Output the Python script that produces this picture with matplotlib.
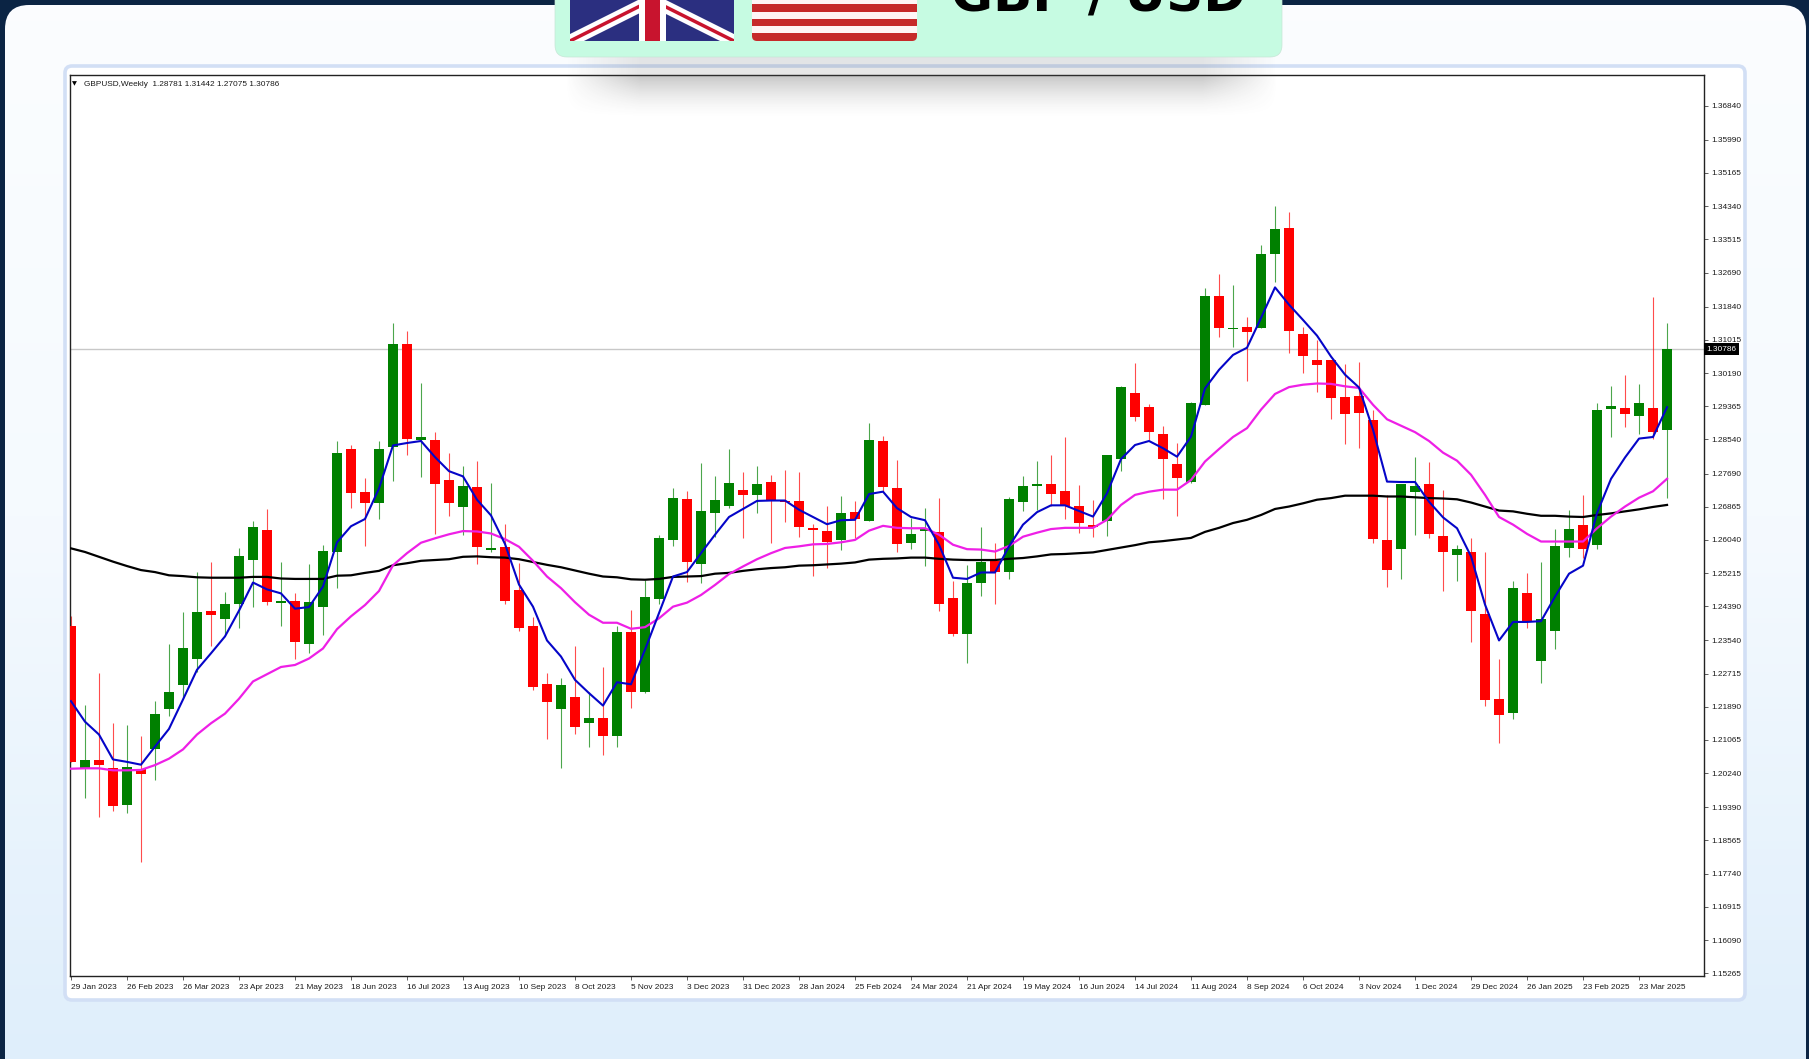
"""
Grafico semanal GBP/USD con velas y tres medias moviles, dentro del marco
decorativo del articulo original.
"""

import matplotlib

matplotlib.use("Agg")

import matplotlib.pyplot as plt
import numpy as np

from matplotlib.patches import FancyBboxPatch, Rectangle

APERTURA = [
    1.2390, 1.2037, 1.2056, 1.2037, 1.1946, 1.2035, 1.2085, 1.2183, 1.2244, 1.2307,
    1.2426, 1.2408, 1.2445, 1.2555, 1.2628, 1.2448, 1.2452, 1.2345, 1.2436, 1.2573,
    1.2831, 1.2724, 1.2696, 1.2835, 1.3092, 1.2852, 1.2853, 1.2753, 1.2687, 1.2735,
    1.2578, 1.2587, 1.2480, 1.2390, 1.2246, 1.2184, 1.2214, 1.2148, 1.2161, 1.2116,
    1.2375, 1.2226, 1.2457, 1.2603, 1.2706, 1.2543, 1.2671, 1.2688, 1.2729, 1.2716,
    1.2748, 1.2702, 1.2700, 1.2633, 1.2625, 1.2603, 1.2673, 1.2651, 1.2849, 1.2734,
    1.2596, 1.2626, 1.2623, 1.2460, 1.2370, 1.2498, 1.2552, 1.2523, 1.2699, 1.2739,
    1.2743, 1.2725, 1.2688, 1.2642, 1.2650, 1.2805, 1.2969, 1.2934, 1.2868, 1.2793,
    1.2749, 1.2940, 1.3211, 1.3129, 1.3134, 1.3131, 1.3316, 1.3379, 1.3117, 1.3052,
    1.3052, 1.2959, 1.2961, 1.2902, 1.2603, 1.2581, 1.2724, 1.2743, 1.2613, 1.2566,
    1.2575, 1.2419, 1.2209, 1.2174, 1.2472, 1.2302, 1.2378, 1.2585, 1.2641, 1.2591,
    1.2930, 1.2931, 1.2912, 1.2931, 1.28781,
]
MAXIMO = [
    1.2416, 1.2194, 1.2272, 1.2148, 1.2143, 1.2116, 1.2203, 1.2344, 1.2424, 1.2525,
    1.2548, 1.2474, 1.2585, 1.2652, 1.2680, 1.2548, 1.2472, 1.2545, 1.2591, 1.2849,
    1.2840, 1.2758, 1.2849, 1.3143, 1.3124, 1.2994, 1.2872, 1.2819, 1.2789, 1.2801,
    1.2746, 1.2643, 1.2546, 1.2413, 1.2273, 1.2260, 1.2339, 1.2227, 1.2289, 1.2389,
    1.2430, 1.2505, 1.2617, 1.2734, 1.2726, 1.2795, 1.2762, 1.2830, 1.2772, 1.2787,
    1.2766, 1.2777, 1.2772, 1.2644, 1.2689, 1.2712, 1.2701, 1.2894, 1.2863, 1.2803,
    1.2658, 1.2683, 1.2708, 1.2501, 1.2542, 1.2635, 1.2596, 1.2710, 1.2762, 1.2800,
    1.2816, 1.2861, 1.2741, 1.2703, 1.2816, 1.2988, 1.3045, 1.2942, 1.2888, 1.2845,
    1.2948, 1.3230, 1.3265, 1.3238, 1.3158, 1.3337, 1.3434, 1.3420, 1.3134, 1.3101,
    1.3052, 1.3041, 1.3047, 1.2927, 1.2716, 1.2743, 1.2811, 1.2798, 1.2729, 1.2592,
    1.2608, 1.2575, 1.2308, 1.2502, 1.2521, 1.2550, 1.2631, 1.2679, 1.2716, 1.2944,
    1.2987, 1.3014, 1.2992, 1.3207, 1.31442,
]
MINIMO = [
    1.2051, 1.1961, 1.1916, 1.1929, 1.1924, 1.1803, 1.2008, 1.2166, 1.2212, 1.2276,
    1.2341, 1.2368, 1.2385, 1.2436, 1.2442, 1.2390, 1.2307, 1.2324, 1.2368, 1.2485,
    1.2684, 1.2589, 1.2656, 1.2750, 1.2815, 1.2761, 1.2619, 1.2664, 1.2617, 1.2545,
    1.2575, 1.2445, 1.2378, 1.2230, 1.2109, 1.2036, 1.2122, 1.2089, 1.2069, 1.2089,
    1.2186, 1.2223, 1.2445, 1.2588, 1.2500, 1.2498, 1.2612, 1.2683, 1.2608, 1.2671,
    1.2596, 1.2648, 1.2612, 1.2515, 1.2533, 1.2578, 1.2608, 1.2651, 1.2724, 1.2574,
    1.2582, 1.2538, 1.2426, 1.2364, 1.2298, 1.2465, 1.2445, 1.2507, 1.2675, 1.2679,
    1.2689, 1.2656, 1.2621, 1.2611, 1.2614, 1.2776, 1.2900, 1.2853, 1.2706, 1.2664,
    1.2745, 1.2940, 1.3108, 1.3084, 1.3000, 1.3131, 1.3246, 1.3068, 1.3020, 1.2972,
    1.2905, 1.2842, 1.2832, 1.2596, 1.2487, 1.2507, 1.2617, 1.2608, 1.2476, 1.2501,
    1.2351, 1.2190, 1.2099, 1.2159, 1.2385, 1.2249, 1.2332, 1.2561, 1.2558, 1.2581,
    1.2859, 1.2884, 1.2867, 1.2854, 1.27075,
]
CIERRE = [
    1.2051, 1.2056, 1.2044, 1.1943, 1.2039, 1.2023, 1.2170, 1.2226, 1.2336, 1.2425,
    1.2417, 1.2445, 1.2565, 1.2635, 1.2450, 1.2449, 1.2350, 1.2450, 1.2577, 1.2821,
    1.2720, 1.2696, 1.2831, 1.3092, 1.2854, 1.2859, 1.2742, 1.2696, 1.2738, 1.2587,
    1.2585, 1.2453, 1.2385, 1.2237, 1.2200, 1.2244, 1.2139, 1.2161, 1.2116, 1.2375,
    1.2225, 1.2462, 1.2608, 1.2709, 1.2548, 1.2676, 1.2704, 1.2746, 1.2716, 1.2743,
    1.2702, 1.2699, 1.2637, 1.2629, 1.2598, 1.2671, 1.2656, 1.2852, 1.2736, 1.2594,
    1.2618, 1.2631, 1.2445, 1.2370, 1.2497, 1.2550, 1.2525, 1.2706, 1.2739, 1.2743,
    1.2719, 1.2689, 1.2647, 1.2637, 1.2816, 1.2985, 1.2910, 1.2872, 1.2806, 1.2759,
    1.2945, 1.3211, 1.3131, 1.3132, 1.3120, 1.3316, 1.3376, 1.3124, 1.3062, 1.3040,
    1.2957, 1.2917, 1.2920, 1.2606, 1.2530, 1.2743, 1.2738, 1.2618, 1.2573, 1.2581,
    1.2428, 1.2206, 1.2169, 1.2485, 1.2400, 1.2407, 1.2588, 1.2631, 1.2581, 1.2927,
    1.2937, 1.2916, 1.2944, 1.2872, 1.30786,
]
MEDIA_AZUL = [
    1.2203, 1.2152, 1.2120, 1.2058, 1.2052, 1.2045, 1.2090, 1.2134, 1.2207, 1.2281,
    1.2322, 1.2364, 1.2428, 1.2498, 1.2481, 1.2471, 1.2433, 1.2437, 1.2488, 1.2598,
    1.2638, 1.2656, 1.2732, 1.2839, 1.2845, 1.2850, 1.2810, 1.2775, 1.2762, 1.2704,
    1.2665, 1.2594, 1.2493, 1.2438, 1.2354, 1.2314, 1.2256, 1.2223, 1.2192, 1.2250,
    1.2245, 1.2331, 1.2422, 1.2513, 1.2524, 1.2571, 1.2617, 1.2661, 1.2681, 1.2701,
    1.2702, 1.2702, 1.2679, 1.2661, 1.2643, 1.2653, 1.2654, 1.2718, 1.2724, 1.2683,
    1.2661, 1.2653, 1.2592, 1.2510, 1.2507, 1.2523, 1.2523, 1.2588, 1.2642, 1.2673,
    1.2690, 1.2690, 1.2676, 1.2662, 1.2720, 1.2805, 1.2840, 1.2850, 1.2832, 1.2811,
    1.2861, 1.2981, 1.3027, 1.3064, 1.3082, 1.3156, 1.3232, 1.3189, 1.3151, 1.3112,
    1.3060, 1.3015, 1.2983, 1.2878, 1.2749, 1.2748, 1.2748, 1.2699, 1.2660, 1.2633,
    1.2563, 1.2443, 1.2354, 1.2400, 1.2400, 1.2402, 1.2463, 1.2520, 1.2540, 1.2671,
    1.2756, 1.2809, 1.2856, 1.2860, 1.2934,
]
MEDIA_MAGENTA = [
    1.2035, 1.2036, 1.2036, 1.2031, 1.2031, 1.2032, 1.2044, 1.2060, 1.2083, 1.2120,
    1.2148, 1.2172, 1.2209, 1.2252, 1.2270, 1.2288, 1.2293, 1.2309, 1.2334, 1.2382,
    1.2414, 1.2442, 1.2477, 1.2541, 1.2571, 1.2597, 1.2608, 1.2618, 1.2626, 1.2625,
    1.2620, 1.2606, 1.2587, 1.2552, 1.2513, 1.2484, 1.2449, 1.2418, 1.2398, 1.2398,
    1.2383, 1.2387, 1.2409, 1.2438, 1.2448, 1.2467, 1.2492, 1.2519, 1.2538, 1.2556,
    1.2571, 1.2584, 1.2588, 1.2593, 1.2594, 1.2598, 1.2604, 1.2627, 1.2639, 1.2634,
    1.2633, 1.2633, 1.2617, 1.2592, 1.2581, 1.2580, 1.2575, 1.2589, 1.2612, 1.2622,
    1.2631, 1.2634, 1.2634, 1.2634, 1.2654, 1.2691, 1.2716, 1.2724, 1.2729, 1.2729,
    1.2753, 1.2799, 1.2830, 1.2860, 1.2882, 1.2928, 1.2967, 1.2984, 1.2990, 1.2993,
    1.2992, 1.2986, 1.2982, 1.2940, 1.2904, 1.2888, 1.2872, 1.2850, 1.2821, 1.2801,
    1.2766, 1.2716, 1.2661, 1.2642, 1.2619, 1.2600, 1.2600, 1.2600, 1.2600, 1.2633,
    1.2662, 1.2687, 1.2709, 1.2725, 1.2756,
]
MEDIA_NEGRA = [
    1.2583, 1.2574, 1.2562, 1.2550, 1.2539, 1.2529, 1.2524, 1.2516, 1.2514, 1.2511,
    1.2510, 1.2510, 1.2510, 1.2512, 1.2512, 1.2508, 1.2507, 1.2507, 1.2507, 1.2515,
    1.2516, 1.2522, 1.2527, 1.2541, 1.2546, 1.2552, 1.2554, 1.2556, 1.2562, 1.2563,
    1.2561, 1.2560, 1.2556, 1.2549, 1.2542, 1.2536, 1.2528, 1.2520, 1.2513, 1.2511,
    1.2506, 1.2505, 1.2507, 1.2512, 1.2513, 1.2514, 1.2520, 1.2522, 1.2527, 1.2531,
    1.2534, 1.2536, 1.2540, 1.2541, 1.2543, 1.2545, 1.2548, 1.2555, 1.2557, 1.2558,
    1.2560, 1.2560, 1.2557, 1.2555, 1.2554, 1.2554, 1.2554, 1.2557, 1.2559, 1.2563,
    1.2568, 1.2569, 1.2571, 1.2573, 1.2579, 1.2585, 1.2591, 1.2598, 1.2601, 1.2605,
    1.2609, 1.2624, 1.2634, 1.2646, 1.2654, 1.2666, 1.2681, 1.2687, 1.2695, 1.2704,
    1.2708, 1.2714, 1.2714, 1.2714, 1.2712, 1.2712, 1.2710, 1.2708, 1.2707, 1.2705,
    1.2697, 1.2687, 1.2677, 1.2675, 1.2669, 1.2664, 1.2664, 1.2662, 1.2661, 1.2666,
    1.2670, 1.2675, 1.2680, 1.2686, 1.2691,
]
ETIQUETAS_X = [
    "29 Jan 2023", "26 Feb 2023", "26 Mar 2023", "23 Apr 2023", "21 May 2023",
    "18 Jun 2023", "16 Jul 2023", "13 Aug 2023", "10 Sep 2023", "8 Oct 2023",
    "5 Nov 2023", "3 Dec 2023", "31 Dec 2023", "28 Jan 2024", "25 Feb 2024",
    "24 Mar 2024", "21 Apr 2024", "19 May 2024", "16 Jun 2024", "14 Jul 2024",
    "11 Aug 2024", "8 Sep 2024", "6 Oct 2024", "3 Nov 2024", "1 Dec 2024",
    "29 Dec 2024", "26 Jan 2025", "23 Feb 2025", "23 Mar 2025",
]
TICKS_Y = [
    1.36840, 1.35990, 1.35165, 1.34340, 1.33515, 1.32690, 1.31840, 1.31015, 1.30190,
    1.29365, 1.28540, 1.27690, 1.26865, 1.26040, 1.25215, 1.24390, 1.23540, 1.22715,
    1.21890, 1.21065, 1.20240, 1.19390, 1.18565, 1.17740, 1.16915, 1.16090, 1.15265,
]
PRECIO_ACTUAL = 1.30786
CABECERA = "GBPUSD,Weekly  1.28781 1.31442 1.27075 1.30786"

ANCHO, ALTO = 1809, 1059
FUENTE = "Liberation Sans"
TAM_TEXTO = 5.95
VERDE = "#008000"
ROJO = "#ff0000"

fig = plt.figure(figsize=(ANCHO / 100, ALTO / 100), dpi=100, facecolor="#0b2444")

# marco de fondo en coordenadas de pixel
fondo = fig.add_axes([0, 0, 1, 1], zorder=0)
fondo.set_xlim(0, ANCHO)
fondo.set_ylim(ALTO, 0)
fondo.axis("off")

panel = FancyBboxPatch(
    (5, 5), 1801, 1100, boxstyle="round,pad=0,rounding_size=24",
    facecolor="none", edgecolor="none",
)
fondo.add_patch(panel)
tonos = np.array([[0.985, 0.992, 1.0], [0.96, 0.98, 0.998], [0.875, 0.935, 0.985]])
filas = np.interp(np.linspace(0, 1, 256), [0, 0.5, 1], [0, 1, 2])
degradado = np.stack(
    [np.interp(filas, [0, 1, 2], tonos[:, c]) for c in range(3)], axis=1
)[:, None, :]
imagen = fondo.imshow(degradado, extent=(5, 1806, 1059, 5), aspect="auto", zorder=1)
imagen.set_clip_path(panel)
fondo.set_xlim(0, ANCHO)
fondo.set_ylim(ALTO, 0)

fondo.add_patch(FancyBboxPatch(
    (65, 66), 1680, 934, boxstyle="round,pad=0,rounding_size=7",
    facecolor="#ffffff", edgecolor="#d2dff5", linewidth=2.6, zorder=2,
))

# grafico de velas
ax = fig.add_axes(
    [70 / ANCHO, 1 - 976 / ALTO, (1704 - 70) / ANCHO, (976 - 75) / ALTO], zorder=2
)
ax.set_facecolor("white")

x = np.arange(len(CIERRE))
apertura = np.array(APERTURA)
cierre = np.array(CIERRE)
sube = cierre >= apertura
colores = np.where(sube, VERDE, ROJO)

ax.axhline(PRECIO_ACTUAL, color="#c8c8c8", linewidth=1.0, zorder=1)
ax.vlines(x[sube], np.array(MINIMO)[sube], np.array(MAXIMO)[sube],
          color=VERDE, linewidth=0.8, alpha=0.7, zorder=2)
ax.vlines(x[~sube], np.array(MINIMO)[~sube], np.array(MAXIMO)[~sube],
          color=ROJO, linewidth=0.8, alpha=0.7, zorder=2)
ax.bar(x, np.abs(cierre - apertura), bottom=np.minimum(apertura, cierre),
       width=0.68, color=colores, linewidth=0, zorder=3)
# las velas casi planas siguen viendose como una raya
ax.bar(x, 0.0003, bottom=np.minimum(apertura, cierre), width=0.68, color=colores,
       linewidth=0, zorder=3)

ax.plot(x, MEDIA_NEGRA, color="#000000", linewidth=1.6, zorder=4)
ax.plot(x, MEDIA_MAGENTA, color="#ee1fe6", linewidth=1.6, zorder=5)
ax.plot(x, MEDIA_AZUL, color="#0505c8", linewidth=1.5, zorder=6)

ax.set_xlim(-0.07, 116.64)
ax.set_ylim(1.15195, 1.37602)
ax.yaxis.tick_right()
ax.set_yticks(TICKS_Y)
ax.set_yticklabels([f"{v:.5f}" for v in TICKS_Y], fontsize=TAM_TEXTO, family=FUENTE, color="#1a1a1a")
ax.set_xticks(x[::4])
ax.set_xticklabels(ETIQUETAS_X, fontsize=TAM_TEXTO, family=FUENTE, color="#1a1a1a", ha="left")
ax.tick_params(axis="both", length=3, width=0.6, color="#444444", pad=2)
ax.tick_params(axis="x", pad=2.5)
for lado in ax.spines.values():
    lado.set_color("#222222")
    lado.set_linewidth(1.0)

ax.text(
    1.0015, PRECIO_ACTUAL, f"{PRECIO_ACTUAL:.5f}", transform=ax.get_yaxis_transform(),
    fontsize=TAM_TEXTO, family=FUENTE, color="white", va="center", ha="left", zorder=10,
    bbox=dict(facecolor="black", edgecolor="none", pad=1.6), clip_on=False,
)
ax.text(2 / 1634, 1 - 9 / 901, "\u25bc", transform=ax.transAxes, fontsize=4.6,
        family="DejaVu Sans", va="center", ha="left", color="black")
ax.text(14 / 1634, 1 - 9 / 901, CABECERA, transform=ax.transAxes, fontsize=TAM_TEXTO,
        family=FUENTE, va="center", ha="left", color="#1a1a1a")

# banner superior con sombra
capa = fig.add_axes([0, 0, 1, 1], zorder=5)
capa.set_xlim(0, ANCHO)
capa.set_ylim(ALTO, 0)
capa.axis("off")
capa.patch.set_alpha(0)

xs = np.arange(540, 1300)
ys = np.arange(50, 125)
caida_x = np.clip((xs - 565) / 75, 0, 1) * np.clip((1277 - xs) / 75, 0, 1)
caida_y = np.clip((118 - ys) / 45, 0, 1) ** 1.6 * np.where(ys < 75, 0.4, 1.0)
sombra = np.zeros((len(ys), len(xs), 4))
sombra[..., :3] = 0.28
sombra[..., 3] = 0.33 * np.outer(caida_y, caida_x)
capa.imshow(sombra, extent=(540, 1300, 125, 50), aspect="auto", zorder=1)
capa.set_xlim(0, ANCHO)
capa.set_ylim(ALTO, 0)

capa.add_patch(FancyBboxPatch(
    (555, -30), 727, 87, boxstyle="round,pad=0,rounding_size=12",
    facecolor="#c6fbe2", edgecolor="#c6e6d6", linewidth=0.5, zorder=2,
))

# bandera britanica
bandera = Rectangle((570, -42), 164, 83, facecolor="#2b2f80", edgecolor="none", zorder=3)
capa.add_patch(bandera)
for extremo_x, extremo_y in [(570, 41), (734, 41)]:
    for grosor, tono in [(9, "#ffffff"), (2.5, "#c8142e")]:
        linea, = capa.plot([652, extremo_x], [0, extremo_y], color=tono, linewidth=grosor,
                           solid_capstyle="butt", zorder=4)
        linea.set_clip_path(bandera)
capa.add_patch(Rectangle((639, -42), 27, 83, facecolor="#ffffff", edgecolor="none", zorder=5))
capa.add_patch(Rectangle((645, -42), 15, 83, facecolor="#c8142e", edgecolor="none", zorder=6))

# bandera de rayas
capa.add_patch(FancyBboxPatch(
    (752, -30), 165, 71, boxstyle="round,pad=0,rounding_size=5",
    facecolor="#c62a2a", edgecolor="none", zorder=3,
))
capa.add_patch(Rectangle((752, -30), 165, 63, facecolor="#fff5f5", edgecolor="none", zorder=4))
for inicio, alto_raya in [(4, 7.5), (19, 7)]:
    capa.add_patch(Rectangle((752, inicio), 165, alto_raya, facecolor="#c62a2a",
                             edgecolor="none", zorder=5))

capa.text(1098, 12, "GBP / USD", fontsize=37, fontweight="bold", family="DejaVu Sans",
          color="black", ha="center", va="baseline", zorder=6)

fig.savefig("out.png", dpi=100, facecolor=fig.get_facecolor())
plt.close(fig)
